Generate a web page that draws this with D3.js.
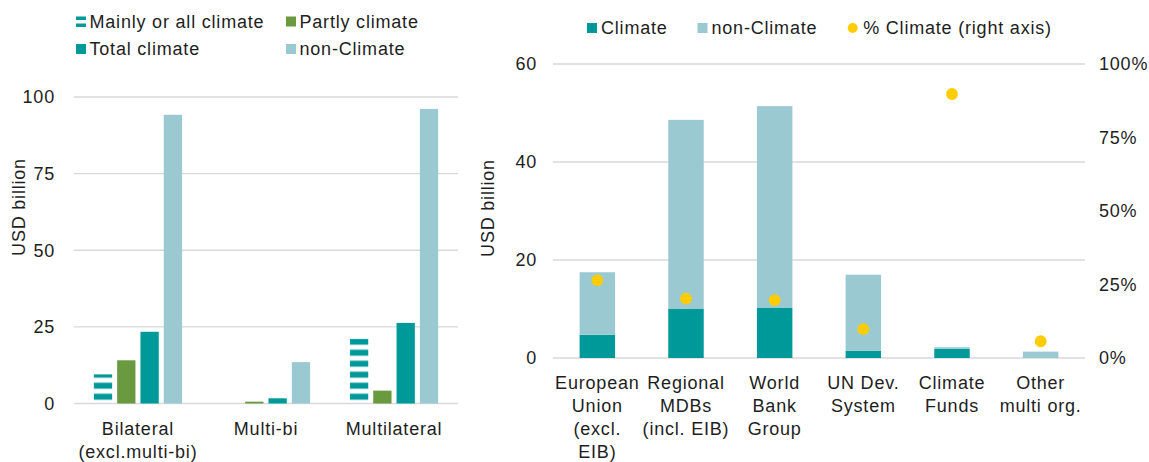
<!DOCTYPE html>
<html>
<head>
<meta charset="utf-8">
<script src="https://cdn.jsdelivr.net/npm/d3@7"></script>
<style>
  html, body { margin: 0; padding: 0; background: #fff; }
  svg { display: block; }
  text { font-family: "Liberation Sans", Arial, sans-serif; font-size: 18px; fill: #1e1e1e; letter-spacing: 0.8px; }
</style>
</head>
<body>
<svg id="chart" width="1149" height="462"></svg>
<script>
// ---------- Left chart data ----------
const leftCategories = ["Bilateral\n(excl.multi-bi)", "Multi-bi", "Multilateral"];
const leftSeriesNames = ["Mainly or all climate", "Partly climate", "Total climate", "non-Climate"];
const mainlyClimate = [9.5, 0, 21.1];
const partlyClimate = [14.1, 0.6, 4.2];
const totalClimate = [23.4, 1.7, 26.3];
const nonClimateLeft = [94.2, 13.5, 96.1];
const leftTicks = [0, 25, 50, 75, 100];

// ---------- Right chart data ----------
const rightCategories = ["European\nUnion\n(excl.\nEIB)", "Regional\nMDBs\n(incl. EIB)", "World\nBank\nGroup", "UN Dev.\nSystem", "Climate\nFunds", "Other\nmulti org."];
const rightSeriesNames = ["Climate", "non-Climate", "% Climate (right axis)"];
const climateRight = [4.75, 10.0, 10.3, 1.5, 1.85, 0.07];
const nonClimateRight = [12.75, 38.6, 41.1, 15.5, 0.35, 1.23];
const pctClimate = [0.264, 0.202, 0.197, 0.098, 0.898, 0.057];
const rightTicksL = [0, 20, 40, 60];
const rightTicksR = [0, 0.25, 0.5, 0.75, 1];

// ---------- Styles ----------
const TEAL = "#009999", LIGHT = "#9bc9d1", GREEN = "#6a9a40", YELLOW = "#ffcc00", GRID = "#d9d9d9";

const svg = d3.select("#chart");
const defs = svg.append("defs");

// ================= LEFT CHART =================
const L = { left: 74, right: 458, top: 97, bottom: 403.5 };
const yL = d3.scaleLinear().domain([0, 100]).range([L.bottom, L.top]);
const x0 = d3.scaleBand().domain(leftCategories).range([L.left, L.right]).paddingInner(0.311).paddingOuter(0.155);
const x1 = d3.scaleBand().domain(leftSeriesNames).range([0, x0.bandwidth()]).paddingInner(0.215);

// stripe pattern anchored at baseline
const pat = defs.append("pattern").attr("id", "stripes").attr("patternUnits", "userSpaceOnUse")
  .attr("x", 0).attr("y", L.bottom).attr("width", 20).attr("height", 11);
pat.append("rect").attr("x", 0).attr("y", 1.2).attr("width", 20).attr("height", 6).attr("fill", TEAL);

const gL = svg.append("g");
// gridlines
gL.append("g").selectAll("line").data(leftTicks).join("line")
  .attr("x1", L.left).attr("x2", L.right)
  .attr("y1", d => yL(d)).attr("y2", d => yL(d))
  .attr("stroke", GRID).attr("stroke-width", 1.3);
// tick labels
gL.append("g").selectAll("text").data(leftTicks).join("text")
  .attr("x", 55).attr("y", d => yL(d)).attr("dy", "0.35em").attr("text-anchor", "end")
  .text(d => d);

const leftFills = { "Mainly or all climate": "url(#stripes)", "Partly climate": GREEN, "Total climate": TEAL, "non-Climate": LIGHT };
const leftValues = { "Mainly or all climate": mainlyClimate, "Partly climate": partlyClimate, "Total climate": totalClimate, "non-Climate": nonClimateLeft };
const leftBarData = [];
leftCategories.forEach((c, i) => leftSeriesNames.forEach(s => leftBarData.push({ c, s, v: leftValues[s][i] })));
gL.append("g").selectAll("rect").data(leftBarData.filter(d => d.v > 0)).join("rect")
  .attr("x", d => x0(d.c) + x1(d.s))
  .attr("width", x1.bandwidth())
  .attr("y", d => yL(d.v))
  .attr("height", d => yL(0) - yL(d.v))
  .attr("fill", d => leftFills[d.s]);

// category labels
const lcat = gL.append("g").selectAll("text").data(leftCategories).join("text")
  .attr("text-anchor", "middle")
  .attr("transform", d => `translate(${x0(d) + x0.bandwidth() / 2},435)`);
lcat.selectAll("tspan").data(d => d.split("\n")).join("tspan")
  .attr("x", 0).attr("y", (d, i) => i * 23).text(d => d);

// y-axis title
svg.append("text").attr("transform", "translate(25,207) rotate(-90)").attr("text-anchor", "middle").text("USD billion");

// left legend
const legL = [
  { name: "Mainly or all climate", x: 76, y: 16.5 },
  { name: "Partly climate", x: 286, y: 16.5 },
  { name: "Total climate", x: 76, y: 44 },
  { name: "non-Climate", x: 286, y: 44 }
];
const lg = svg.append("g").selectAll("g").data(legL).join("g").attr("transform", d => `translate(${d.x},${d.y})`);
lg.each(function (d) {
  const g = d3.select(this);
  if (d.name === "Mainly or all climate") {
    g.append("rect").attr("x", 0).attr("y", 0).attr("width", 10).attr("height", 3.5).attr("fill", TEAL);
    g.append("rect").attr("x", 0).attr("y", 7).attr("width", 10).attr("height", 3.5).attr("fill", TEAL);
  } else {
    g.append("rect").attr("x", 0).attr("y", 0).attr("width", 10).attr("height", 10).attr("fill", leftFills[d.name]);
  }
  g.append("text").attr("x", 13.5).attr("y", 5).attr("dy", "0.35em").text(d.name);
});

// ================= RIGHT CHART =================
const R = { left: 553, right: 1085, top: 64, bottom: 358 };
const yR = d3.scaleLinear().domain([0, 60]).range([R.bottom, R.top]);
const yP = d3.scaleLinear().domain([0, 1]).range([R.bottom, R.top]);
const xR = d3.scaleBand().domain(rightCategories).range([R.left, R.right]).paddingInner(0.6).paddingOuter(0.3);

const gR = svg.append("g");
gR.append("g").selectAll("line").data(rightTicksL).join("line")
  .attr("x1", R.left).attr("x2", R.right)
  .attr("y1", d => yR(d)).attr("y2", d => yR(d))
  .attr("stroke", GRID).attr("stroke-width", 1.3);
gR.append("g").selectAll("text").data(rightTicksL).join("text")
  .attr("x", 537).attr("y", d => yR(d)).attr("dy", "0.35em").attr("text-anchor", "end").text(d => d);
gR.append("g").selectAll("text").data(rightTicksR).join("text")
  .attr("x", 1099).attr("y", d => yP(d)).attr("dy", "0.35em").attr("text-anchor", "start")
  .text(d => d3.format(".0%")(d));

// stacked bars
const stackInput = rightCategories.map((c, i) => ({ c, climate: climateRight[i], non: nonClimateRight[i] }));
const stacked = d3.stack().keys(["climate", "non"])(stackInput);
const stackFill = { climate: TEAL, non: LIGHT };
gR.append("g").selectAll("g").data(stacked).join("g")
  .attr("fill", d => stackFill[d.key])
  .selectAll("rect").data(d => d).join("rect")
  .attr("x", d => xR(d.data.c))
  .attr("width", xR.bandwidth())
  .attr("y", d => yR(d[1]))
  .attr("height", d => yR(d[0]) - yR(d[1]));

// % dots
gR.append("g").selectAll("circle").data(rightCategories).join("circle")
  .attr("cx", d => xR(d) + xR.bandwidth() / 2)
  .attr("cy", (d, i) => yP(pctClimate[i]))
  .attr("r", 5.9).attr("fill", YELLOW);

// category labels
const rcat = gR.append("g").selectAll("text").data(rightCategories).join("text")
  .attr("text-anchor", "middle")
  .attr("transform", d => `translate(${xR(d) + xR.bandwidth() / 2},389)`);
rcat.selectAll("tspan").data(d => d.split("\n")).join("tspan")
  .attr("x", 0).attr("y", (d, i) => i * 23).text(d => d);

svg.append("text").attr("transform", "translate(494,208) rotate(-90)").attr("text-anchor", "middle").text("USD billion");

// right legend
const legR = [
  { name: "Climate", x: 587, type: "rect", fill: TEAL },
  { name: "non-Climate", x: 697.5, type: "rect", fill: LIGHT },
  { name: "% Climate (right axis)", x: 847.7, type: "dot", fill: YELLOW }
];
const rg = svg.append("g").selectAll("g").data(legR).join("g").attr("transform", d => `translate(${d.x},23)`);
rg.each(function (d) {
  const g = d3.select(this);
  if (d.type === "rect") g.append("rect").attr("width", 10).attr("height", 10).attr("fill", d.fill);
  else g.append("circle").attr("cx", 5).attr("cy", 5).attr("r", 5).attr("fill", d.fill);
  g.append("text").attr("x", d.type === "rect" ? 14 : 15.5).attr("y", 5).attr("dy", "0.35em").text(d.name);
});
</script>
</body>
</html>
